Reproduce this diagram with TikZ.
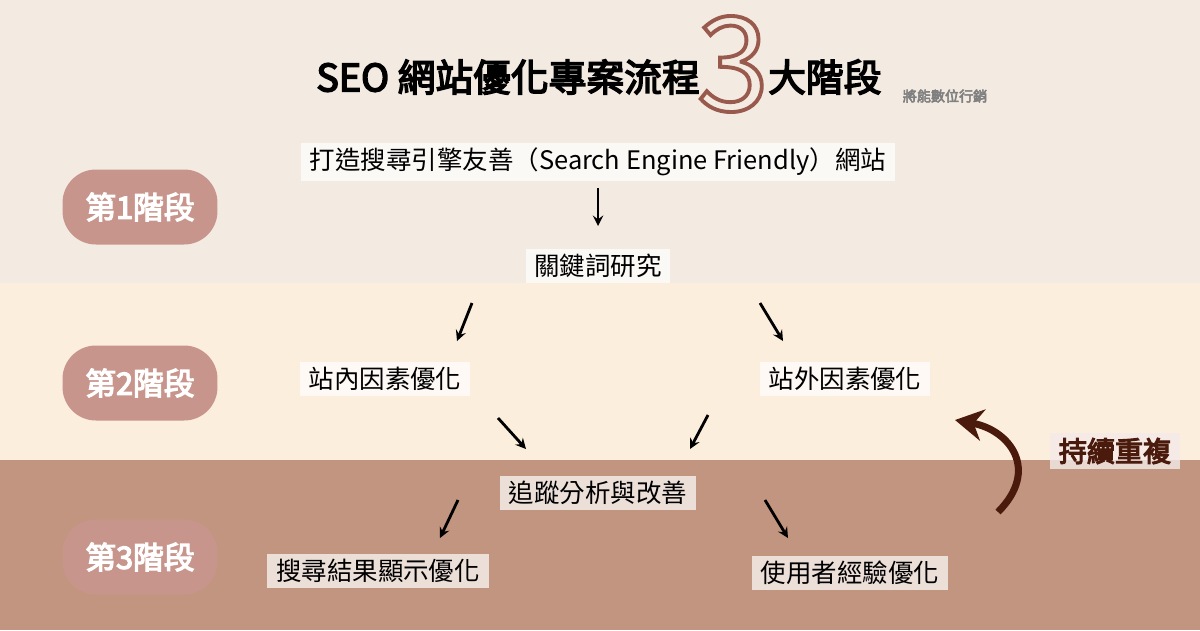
\documentclass[tikz,border=0pt]{standalone}
\usepackage{fontspec}
\usetikzlibrary{arrows.meta}
\setmainfont{Noto Sans CJK TC}
\newfontfamily\cjkbold[FakeBold=4]{Noto Sans CJK TC}
\definecolor{bandtop}{HTML}{F3EBE2}
\definecolor{bandmid}{HTML}{FCEEDD}
\definecolor{bandlow}{HTML}{C1957F}
\definecolor{pill}{HTML}{C8958C}
\definecolor{darkbrown}{HTML}{4A1A0C}
\begin{document}
\begin{tikzpicture}[x=0.02cm,y=-0.02cm,
        stepbox/.style={fill=white,fill opacity=0.7,text opacity=1,
            inner xsep=5pt,inner ysep=3pt,font=\fontsize{14.5}{16}\selectfont},
        stage/.style={fill=pill,text=white,rounded corners=19pt,
            minimum width=3.1cm,minimum height=1.5cm,
            font=\cjkbold\fontsize{17.5}{19}\selectfont},
        flow/.style={-stealth,line width=1.6pt}]
        \fill[bandtop] (0,0) rectangle (1200,283);
        \fill[bandmid] (0,283) rectangle (1200,460);
        \fill[bandlow] (0,460) rectangle (1200,630);
        \useasboundingbox (0,0) rectangle (1200,630);

        % title
        \node[font=\cjkbold\fontsize{21.5}{23}\selectfont,anchor=east] (T1) at (706,77) {SEO 網站優化專案流程};
        \node[font=\fontsize{74}{74}\selectfont] (T3) at (733,64)
            {\special{pdf:literal direct 1 Tr 2.2 w 0.6 0.35 0.3 RG}3\special{pdf:literal direct 0 Tr}};
        \node[font=\cjkbold\fontsize{21.5}{23}\selectfont,anchor=west] (T2) at (762,77) {大階段};
        \node[font=\cjkbold\fontsize{8}{9}\selectfont,text=gray] (brand) at (945,96) {將能數位行銷};

        % stages
        \node[stage] (S1) at (140,207) {第1階段};
        \node[stage] (S2) at (140,383) {第2階段};
        \node[stage] (S3) at (140,557) {第3階段};

        % steps
        \node[stepbox] (A) at (598,162) {打造搜尋引擎友善（Search Engine Friendly）網站};
        \node[stepbox] (B) at (598,266) {關鍵詞研究};
        \node[stepbox] (C) at (385,379) {站內因素優化};
        \node[stepbox] (D) at (845,379) {站外因素優化};
        \node[stepbox] (E) at (598,493) {追蹤分析與改善};
        \node[stepbox] (F) at (378,571) {搜尋結果顯示優化};
        \node[stepbox] (G) at (850,573) {使用者經驗優化};
        \node[stepbox,fill=white!80!pill,fill opacity=0.8,text=darkbrown,
            font=\cjkbold\fontsize{16}{18}\selectfont] (R) at (1115,451) {持續重複};

        \coordinate (a1) at (598,188); \coordinate (a2) at (598,226);
        \coordinate (b1) at (472,303); \coordinate (b2) at (457,341);
        \coordinate (b3) at (760,303); \coordinate (b4) at (783,341);
        \coordinate (c1) at (498,418); \coordinate (c2) at (526,449);
        \coordinate (d1) at (708,415); \coordinate (d2) at (690,449);
        \coordinate (e1) at (458,500); \coordinate (e2) at (440,538);
        \coordinate (e3) at (765,500); \coordinate (e4) at (788,538);
        \coordinate (r1) at (998,512); \coordinate (r2) at (955,420);

        \draw[flow] (a1) -- (a2);
        \draw[flow] (b1) -- (b2);
        \draw[flow] (b3) -- (b4);
        \draw[flow] (c1) -- (c2);
        \draw[flow] (d1) -- (d2);
        \draw[flow] (e1) -- (e2);
        \draw[flow] (e3) -- (e4);
        \draw[-{Stealth[length=16pt,width=18pt]},line width=4pt,darkbrown]
            (r1) .. controls (1040,470) and (1010,430) .. (r2);
\end{tikzpicture}
\end{document}
